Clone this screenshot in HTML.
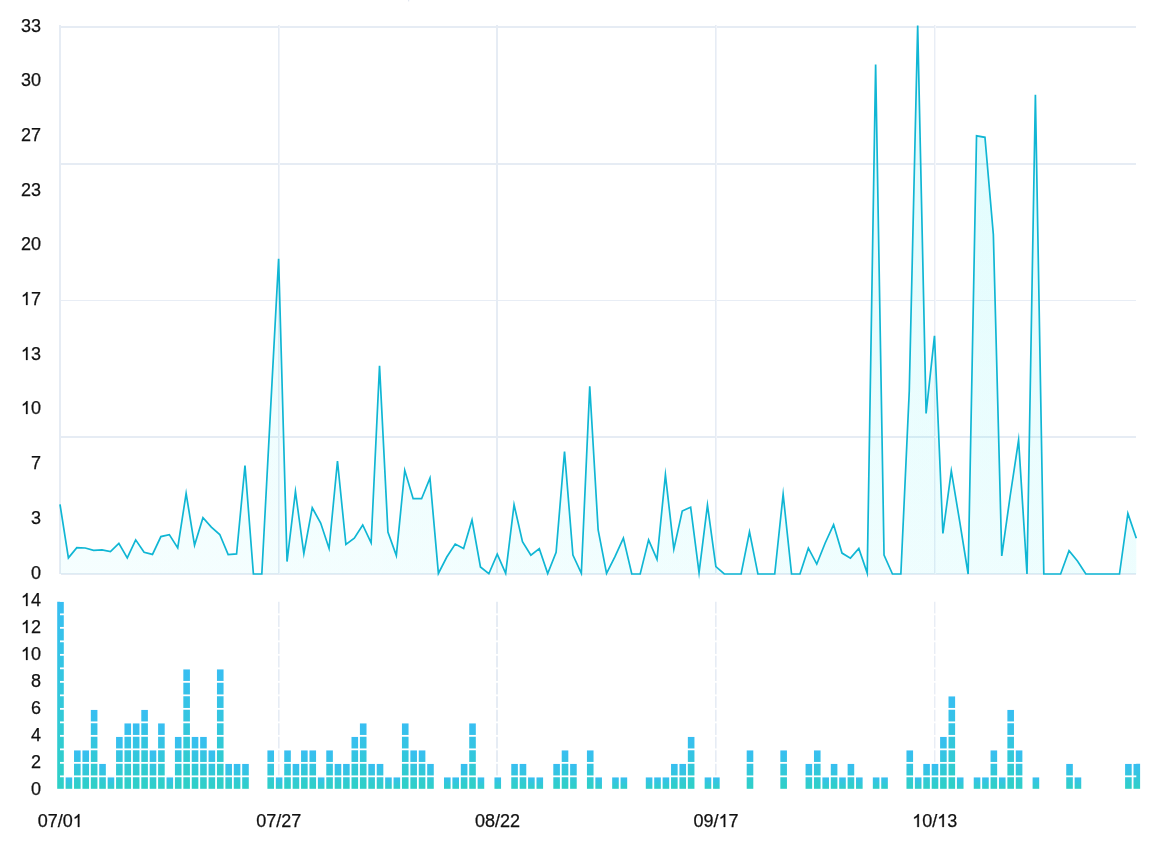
<!DOCTYPE html>
<html><head><meta charset="utf-8"><title>chart</title>
<style>html,body{margin:0;padding:0;background:#fff;}body{position:relative;width:1172px;height:852px;overflow:hidden;font-family:"Liberation Sans",sans-serif;}svg{display:block;position:absolute;left:0;top:0;} .lab{will-change:transform;}</style>
</head><body>
<svg width="1172" height="852" viewBox="0 0 1172 852">
<defs>
<linearGradient id="ag" gradientUnits="userSpaceOnUse" x1="0" y1="26.9" x2="0" y2="574.0">
<stop offset="0" stop-color="rgb(0,232,242)" stop-opacity="0.10"/><stop offset="1" stop-color="rgb(0,232,242)" stop-opacity="0.037"/></linearGradient>
<linearGradient id="ah" gradientUnits="userSpaceOnUse" x1="60" y1="0" x2="1136" y2="0">
<stop offset="0" stop-color="rgb(0,232,242)" stop-opacity="0"/><stop offset="1" stop-color="rgb(0,232,242)" stop-opacity="0.034"/></linearGradient>
<linearGradient id="bg" x1="0" y1="0" x2="0" y2="1">
<stop offset="0" stop-color="#38bef2"/><stop offset="1" stop-color="#2ed0c6"/></linearGradient>
</defs>
<rect width="1172" height="852" fill="#fff"/>
<rect x="61" y="26" width="1075" height="2" fill="#e6ecf4" shape-rendering="crispEdges"/>
<rect x="61" y="163" width="1075" height="2" fill="#e6ecf4" shape-rendering="crispEdges"/>
<rect x="61" y="436" width="1075" height="2" fill="#e6ecf4" shape-rendering="crispEdges"/>
<rect x="61" y="573" width="1075" height="2" fill="#e6ecf4" shape-rendering="crispEdges"/>
<rect x="61" y="300" width="1075" height="1" fill="#e8edf5" shape-rendering="crispEdges"/>
<rect x="59" y="25" width="2" height="549" fill="#e6ecf4" shape-rendering="crispEdges"/>
<rect x="278" y="25" width="1" height="549" fill="#e6ecf4" shape-rendering="crispEdges"/>
<rect x="279" y="25" width="1" height="549" fill="#f0f3f9" shape-rendering="crispEdges"/>
<rect x="496" y="25" width="2" height="549" fill="#e6ecf4" shape-rendering="crispEdges"/>
<rect x="715" y="25" width="1" height="549" fill="#e6ecf4" shape-rendering="crispEdges"/>
<rect x="716" y="25" width="1" height="549" fill="#f0f3f9" shape-rendering="crispEdges"/>
<rect x="934" y="25" width="1" height="549" fill="#e8edf5" shape-rendering="crispEdges"/>
<rect x="935" y="25" width="1" height="549" fill="#f5f7fb" shape-rendering="crispEdges"/>
<polygon points="60.00,574.0 60.00,504.40 68.41,557.91 76.82,547.60 85.23,548.00 93.63,550.40 102.04,549.80 110.45,551.52 118.86,543.32 127.27,557.93 135.68,539.87 144.09,552.20 152.49,554.40 160.90,536.60 169.31,534.63 177.72,547.93 186.13,493.45 194.54,545.25 202.95,517.66 211.35,527.10 219.76,534.50 228.17,554.52 236.58,553.90 244.99,465.50 253.40,574.00 261.81,574.00 270.21,416.40 278.62,258.80 287.03,561.60 295.44,491.52 303.85,553.52 312.26,507.72 320.67,523.00 329.07,548.48 337.48,461.00 345.89,544.38 354.30,538.10 362.71,524.99 371.12,542.91 379.53,365.80 387.94,532.00 396.34,555.53 404.75,470.29 413.16,498.70 421.57,498.70 429.98,478.11 438.39,573.40 446.80,557.00 455.20,544.10 463.61,548.55 472.02,520.06 480.43,567.00 488.84,573.73 497.25,554.07 505.66,573.36 514.06,504.72 522.47,541.60 530.88,555.15 539.29,548.63 547.70,573.51 556.11,552.30 564.52,451.50 572.92,555.00 581.33,573.29 589.74,386.20 598.15,530.00 606.56,573.48 614.97,556.70 623.38,538.18 631.78,574.00 640.19,574.00 648.60,539.80 657.01,559.33 665.42,474.82 673.83,549.07 682.24,511.00 690.64,507.16 699.05,572.64 707.46,505.06 715.87,566.60 724.28,574.00 732.69,574.00 741.10,574.00 749.50,531.95 757.91,574.00 766.32,574.00 774.73,574.00 783.14,494.25 791.55,574.00 799.96,574.00 808.36,548.18 816.77,564.10 825.18,543.00 833.59,524.59 842.00,553.10 850.41,558.18 858.82,548.45 867.22,573.03 875.63,64.40 884.04,555.00 892.45,574.00 900.86,574.00 909.27,391.00 917.68,25.40 926.09,413.40 934.49,335.80 942.90,533.50 951.31,470.88 959.72,521.70 968.13,574.00 976.54,135.85 984.95,137.30 993.35,234.50 1001.76,555.90 1010.17,496.00 1018.58,440.11 1026.99,574.00 1035.40,94.80 1043.81,574.00 1052.21,574.00 1060.62,574.00 1069.03,550.76 1077.44,561.00 1085.85,574.00 1094.26,574.00 1102.67,574.00 1111.07,574.00 1119.48,574.00 1127.89,513.36 1136.30,538.20 1136.30,574.0" fill="url(#ag)"/>
<polygon points="60.00,574.0 60.00,504.40 68.41,557.91 76.82,547.60 85.23,548.00 93.63,550.40 102.04,549.80 110.45,551.52 118.86,543.32 127.27,557.93 135.68,539.87 144.09,552.20 152.49,554.40 160.90,536.60 169.31,534.63 177.72,547.93 186.13,493.45 194.54,545.25 202.95,517.66 211.35,527.10 219.76,534.50 228.17,554.52 236.58,553.90 244.99,465.50 253.40,574.00 261.81,574.00 270.21,416.40 278.62,258.80 287.03,561.60 295.44,491.52 303.85,553.52 312.26,507.72 320.67,523.00 329.07,548.48 337.48,461.00 345.89,544.38 354.30,538.10 362.71,524.99 371.12,542.91 379.53,365.80 387.94,532.00 396.34,555.53 404.75,470.29 413.16,498.70 421.57,498.70 429.98,478.11 438.39,573.40 446.80,557.00 455.20,544.10 463.61,548.55 472.02,520.06 480.43,567.00 488.84,573.73 497.25,554.07 505.66,573.36 514.06,504.72 522.47,541.60 530.88,555.15 539.29,548.63 547.70,573.51 556.11,552.30 564.52,451.50 572.92,555.00 581.33,573.29 589.74,386.20 598.15,530.00 606.56,573.48 614.97,556.70 623.38,538.18 631.78,574.00 640.19,574.00 648.60,539.80 657.01,559.33 665.42,474.82 673.83,549.07 682.24,511.00 690.64,507.16 699.05,572.64 707.46,505.06 715.87,566.60 724.28,574.00 732.69,574.00 741.10,574.00 749.50,531.95 757.91,574.00 766.32,574.00 774.73,574.00 783.14,494.25 791.55,574.00 799.96,574.00 808.36,548.18 816.77,564.10 825.18,543.00 833.59,524.59 842.00,553.10 850.41,558.18 858.82,548.45 867.22,573.03 875.63,64.40 884.04,555.00 892.45,574.00 900.86,574.00 909.27,391.00 917.68,25.40 926.09,413.40 934.49,335.80 942.90,533.50 951.31,470.88 959.72,521.70 968.13,574.00 976.54,135.85 984.95,137.30 993.35,234.50 1001.76,555.90 1010.17,496.00 1018.58,440.11 1026.99,574.00 1035.40,94.80 1043.81,574.00 1052.21,574.00 1060.62,574.00 1069.03,550.76 1077.44,561.00 1085.85,574.00 1094.26,574.00 1102.67,574.00 1111.07,574.00 1119.48,574.00 1127.89,513.36 1136.30,538.20 1136.30,574.0" fill="url(#ah)"/>
<polyline points="60.00,504.40 68.41,557.91 76.82,547.60 85.23,548.00 93.63,550.40 102.04,549.80 110.45,551.52 118.86,543.32 127.27,557.93 135.68,539.87 144.09,552.20 152.49,554.40 160.90,536.60 169.31,534.63 177.72,547.93 186.13,493.45 194.54,545.25 202.95,517.66 211.35,527.10 219.76,534.50 228.17,554.52 236.58,553.90 244.99,465.50 253.40,574.00 261.81,574.00 270.21,416.40 278.62,258.80 287.03,561.60 295.44,491.52 303.85,553.52 312.26,507.72 320.67,523.00 329.07,548.48 337.48,461.00 345.89,544.38 354.30,538.10 362.71,524.99 371.12,542.91 379.53,365.80 387.94,532.00 396.34,555.53 404.75,470.29 413.16,498.70 421.57,498.70 429.98,478.11 438.39,573.40 446.80,557.00 455.20,544.10 463.61,548.55 472.02,520.06 480.43,567.00 488.84,573.73 497.25,554.07 505.66,573.36 514.06,504.72 522.47,541.60 530.88,555.15 539.29,548.63 547.70,573.51 556.11,552.30 564.52,451.50 572.92,555.00 581.33,573.29 589.74,386.20 598.15,530.00 606.56,573.48 614.97,556.70 623.38,538.18 631.78,574.00 640.19,574.00 648.60,539.80 657.01,559.33 665.42,474.82 673.83,549.07 682.24,511.00 690.64,507.16 699.05,572.64 707.46,505.06 715.87,566.60 724.28,574.00 732.69,574.00 741.10,574.00 749.50,531.95 757.91,574.00 766.32,574.00 774.73,574.00 783.14,494.25 791.55,574.00 799.96,574.00 808.36,548.18 816.77,564.10 825.18,543.00 833.59,524.59 842.00,553.10 850.41,558.18 858.82,548.45 867.22,573.03 875.63,64.40 884.04,555.00 892.45,574.00 900.86,574.00 909.27,391.00 917.68,25.40 926.09,413.40 934.49,335.80 942.90,533.50 951.31,470.88 959.72,521.70 968.13,574.00 976.54,135.85 984.95,137.30 993.35,234.50 1001.76,555.90 1010.17,496.00 1018.58,440.11 1026.99,574.00 1035.40,94.80 1043.81,574.00 1052.21,574.00 1060.62,574.00 1069.03,550.76 1077.44,561.00 1085.85,574.00 1094.26,574.00 1102.67,574.00 1111.07,574.00 1119.48,574.00 1127.89,513.36 1136.30,538.20" fill="none" stroke="#10b6d4" stroke-width="1.7" stroke-linejoin="miter" stroke-miterlimit="10"/>
<rect x="278" y="600" width="1" height="189" fill="#e6ecf4" shape-rendering="crispEdges"/>
<rect x="279" y="600" width="1" height="189" fill="#f0f3f9" shape-rendering="crispEdges"/>
<rect x="496" y="600" width="2" height="189" fill="#e6ecf4" shape-rendering="crispEdges"/>
<rect x="715" y="600" width="1" height="189" fill="#e6ecf4" shape-rendering="crispEdges"/>
<rect x="716" y="600" width="1" height="189" fill="#f0f3f9" shape-rendering="crispEdges"/>
<rect x="934" y="600" width="1" height="189" fill="#e8edf5" shape-rendering="crispEdges"/>
<rect x="935" y="600" width="1" height="189" fill="#f5f7fb" shape-rendering="crispEdges"/>
<rect x="57.20" y="601.75" width="6.6" height="187.05" fill="url(#bg)"/>
<rect x="65.61" y="777.25" width="6.6" height="11.55" fill="url(#bg)"/>
<rect x="74.02" y="750.25" width="6.6" height="38.55" fill="url(#bg)"/>
<rect x="82.43" y="750.25" width="6.6" height="38.55" fill="url(#bg)"/>
<rect x="90.83" y="709.75" width="6.6" height="79.05" fill="url(#bg)"/>
<rect x="99.24" y="763.75" width="6.6" height="25.05" fill="url(#bg)"/>
<rect x="107.65" y="777.25" width="6.6" height="11.55" fill="url(#bg)"/>
<rect x="116.06" y="736.75" width="6.6" height="52.05" fill="url(#bg)"/>
<rect x="124.47" y="723.25" width="6.6" height="65.55" fill="url(#bg)"/>
<rect x="132.88" y="723.25" width="6.6" height="65.55" fill="url(#bg)"/>
<rect x="141.29" y="709.75" width="6.6" height="79.05" fill="url(#bg)"/>
<rect x="149.69" y="750.25" width="6.6" height="38.55" fill="url(#bg)"/>
<rect x="158.10" y="723.25" width="6.6" height="65.55" fill="url(#bg)"/>
<rect x="166.51" y="777.25" width="6.6" height="11.55" fill="url(#bg)"/>
<rect x="174.92" y="736.75" width="6.6" height="52.05" fill="url(#bg)"/>
<rect x="183.33" y="669.25" width="6.6" height="119.55" fill="url(#bg)"/>
<rect x="191.74" y="736.75" width="6.6" height="52.05" fill="url(#bg)"/>
<rect x="200.15" y="736.75" width="6.6" height="52.05" fill="url(#bg)"/>
<rect x="208.55" y="750.25" width="6.6" height="38.55" fill="url(#bg)"/>
<rect x="216.96" y="669.25" width="6.6" height="119.55" fill="url(#bg)"/>
<rect x="225.37" y="763.75" width="6.6" height="25.05" fill="url(#bg)"/>
<rect x="233.78" y="763.75" width="6.6" height="25.05" fill="url(#bg)"/>
<rect x="242.19" y="763.75" width="6.6" height="25.05" fill="url(#bg)"/>
<rect x="267.41" y="750.25" width="6.6" height="38.55" fill="url(#bg)"/>
<rect x="275.82" y="777.25" width="6.6" height="11.55" fill="url(#bg)"/>
<rect x="284.23" y="750.25" width="6.6" height="38.55" fill="url(#bg)"/>
<rect x="292.64" y="763.75" width="6.6" height="25.05" fill="url(#bg)"/>
<rect x="301.05" y="750.25" width="6.6" height="38.55" fill="url(#bg)"/>
<rect x="309.46" y="750.25" width="6.6" height="38.55" fill="url(#bg)"/>
<rect x="317.87" y="777.25" width="6.6" height="11.55" fill="url(#bg)"/>
<rect x="326.27" y="750.25" width="6.6" height="38.55" fill="url(#bg)"/>
<rect x="334.68" y="763.75" width="6.6" height="25.05" fill="url(#bg)"/>
<rect x="343.09" y="763.75" width="6.6" height="25.05" fill="url(#bg)"/>
<rect x="351.50" y="736.75" width="6.6" height="52.05" fill="url(#bg)"/>
<rect x="359.91" y="723.25" width="6.6" height="65.55" fill="url(#bg)"/>
<rect x="368.32" y="763.75" width="6.6" height="25.05" fill="url(#bg)"/>
<rect x="376.73" y="763.75" width="6.6" height="25.05" fill="url(#bg)"/>
<rect x="385.14" y="777.25" width="6.6" height="11.55" fill="url(#bg)"/>
<rect x="393.54" y="777.25" width="6.6" height="11.55" fill="url(#bg)"/>
<rect x="401.95" y="723.25" width="6.6" height="65.55" fill="url(#bg)"/>
<rect x="410.36" y="750.25" width="6.6" height="38.55" fill="url(#bg)"/>
<rect x="418.77" y="750.25" width="6.6" height="38.55" fill="url(#bg)"/>
<rect x="427.18" y="763.75" width="6.6" height="25.05" fill="url(#bg)"/>
<rect x="444.00" y="777.25" width="6.6" height="11.55" fill="url(#bg)"/>
<rect x="452.40" y="777.25" width="6.6" height="11.55" fill="url(#bg)"/>
<rect x="460.81" y="763.75" width="6.6" height="25.05" fill="url(#bg)"/>
<rect x="469.22" y="723.25" width="6.6" height="65.55" fill="url(#bg)"/>
<rect x="477.63" y="777.25" width="6.6" height="11.55" fill="url(#bg)"/>
<rect x="494.45" y="777.25" width="6.6" height="11.55" fill="url(#bg)"/>
<rect x="511.26" y="763.75" width="6.6" height="25.05" fill="url(#bg)"/>
<rect x="519.67" y="763.75" width="6.6" height="25.05" fill="url(#bg)"/>
<rect x="528.08" y="777.25" width="6.6" height="11.55" fill="url(#bg)"/>
<rect x="536.49" y="777.25" width="6.6" height="11.55" fill="url(#bg)"/>
<rect x="553.31" y="763.75" width="6.6" height="25.05" fill="url(#bg)"/>
<rect x="561.72" y="750.25" width="6.6" height="38.55" fill="url(#bg)"/>
<rect x="570.12" y="763.75" width="6.6" height="25.05" fill="url(#bg)"/>
<rect x="586.94" y="750.25" width="6.6" height="38.55" fill="url(#bg)"/>
<rect x="595.35" y="777.25" width="6.6" height="11.55" fill="url(#bg)"/>
<rect x="612.17" y="777.25" width="6.6" height="11.55" fill="url(#bg)"/>
<rect x="620.58" y="777.25" width="6.6" height="11.55" fill="url(#bg)"/>
<rect x="645.80" y="777.25" width="6.6" height="11.55" fill="url(#bg)"/>
<rect x="654.21" y="777.25" width="6.6" height="11.55" fill="url(#bg)"/>
<rect x="662.62" y="777.25" width="6.6" height="11.55" fill="url(#bg)"/>
<rect x="671.03" y="763.75" width="6.6" height="25.05" fill="url(#bg)"/>
<rect x="679.44" y="763.75" width="6.6" height="25.05" fill="url(#bg)"/>
<rect x="687.84" y="736.75" width="6.6" height="52.05" fill="url(#bg)"/>
<rect x="704.66" y="777.25" width="6.6" height="11.55" fill="url(#bg)"/>
<rect x="713.07" y="777.25" width="6.6" height="11.55" fill="url(#bg)"/>
<rect x="746.70" y="750.25" width="6.6" height="38.55" fill="url(#bg)"/>
<rect x="780.34" y="750.25" width="6.6" height="38.55" fill="url(#bg)"/>
<rect x="805.56" y="763.75" width="6.6" height="25.05" fill="url(#bg)"/>
<rect x="813.97" y="750.25" width="6.6" height="38.55" fill="url(#bg)"/>
<rect x="822.38" y="777.25" width="6.6" height="11.55" fill="url(#bg)"/>
<rect x="830.79" y="763.75" width="6.6" height="25.05" fill="url(#bg)"/>
<rect x="839.20" y="777.25" width="6.6" height="11.55" fill="url(#bg)"/>
<rect x="847.61" y="763.75" width="6.6" height="25.05" fill="url(#bg)"/>
<rect x="856.02" y="777.25" width="6.6" height="11.55" fill="url(#bg)"/>
<rect x="872.83" y="777.25" width="6.6" height="11.55" fill="url(#bg)"/>
<rect x="881.24" y="777.25" width="6.6" height="11.55" fill="url(#bg)"/>
<rect x="906.47" y="750.25" width="6.6" height="38.55" fill="url(#bg)"/>
<rect x="914.88" y="777.25" width="6.6" height="11.55" fill="url(#bg)"/>
<rect x="923.29" y="763.75" width="6.6" height="25.05" fill="url(#bg)"/>
<rect x="931.69" y="763.75" width="6.6" height="25.05" fill="url(#bg)"/>
<rect x="940.10" y="736.75" width="6.6" height="52.05" fill="url(#bg)"/>
<rect x="948.51" y="696.25" width="6.6" height="92.55" fill="url(#bg)"/>
<rect x="956.92" y="777.25" width="6.6" height="11.55" fill="url(#bg)"/>
<rect x="973.74" y="777.25" width="6.6" height="11.55" fill="url(#bg)"/>
<rect x="982.15" y="777.25" width="6.6" height="11.55" fill="url(#bg)"/>
<rect x="990.55" y="750.25" width="6.6" height="38.55" fill="url(#bg)"/>
<rect x="998.96" y="777.25" width="6.6" height="11.55" fill="url(#bg)"/>
<rect x="1007.37" y="709.75" width="6.6" height="79.05" fill="url(#bg)"/>
<rect x="1015.78" y="750.25" width="6.6" height="38.55" fill="url(#bg)"/>
<rect x="1032.60" y="777.25" width="6.6" height="11.55" fill="url(#bg)"/>
<rect x="1066.23" y="763.75" width="6.6" height="25.05" fill="url(#bg)"/>
<rect x="1074.64" y="777.25" width="6.6" height="11.55" fill="url(#bg)"/>
<rect x="1125.09" y="763.75" width="6.6" height="25.05" fill="url(#bg)"/>
<rect x="1133.50" y="763.75" width="6.6" height="25.05" fill="url(#bg)"/>
<rect x="60.0" y="775.45" width="1076.3" height="1.8" fill="#fff"/>
<rect x="60.0" y="761.95" width="1076.3" height="1.8" fill="#fff"/>
<rect x="60.0" y="748.45" width="1076.3" height="1.8" fill="#fff"/>
<rect x="60.0" y="734.95" width="1076.3" height="1.8" fill="#fff"/>
<rect x="60.0" y="721.45" width="1076.3" height="1.8" fill="#fff"/>
<rect x="60.0" y="707.95" width="1076.3" height="1.8" fill="#fff"/>
<rect x="60.0" y="694.45" width="1076.3" height="1.8" fill="#fff"/>
<rect x="60.0" y="680.95" width="1076.3" height="1.8" fill="#fff"/>
<rect x="60.0" y="667.45" width="1076.3" height="1.8" fill="#fff"/>
<rect x="60.0" y="653.95" width="1076.3" height="1.8" fill="#fff"/>
<rect x="60.0" y="640.45" width="1076.3" height="1.8" fill="#fff"/>
<rect x="60.0" y="626.95" width="1076.3" height="1.8" fill="#fff"/>
<rect x="60.0" y="613.45" width="1076.3" height="1.8" fill="#fff"/>
<rect x="60.0" y="599.95" width="1076.3" height="1.8" fill="#fff"/>
<rect x="408" y="0" width="1.2" height="1.4" fill="#e2e7f0"/>
</svg>
<svg class="lab" width="1172" height="852" viewBox="0 0 1172 852">
<g font-family="Liberation Sans, sans-serif" font-size="18" fill="#111" stroke="#111" stroke-width="0.25">
<text x="30.89" y="579">0</text>
<text x="30.89" y="524">3</text>
<text x="30.89" y="469">7</text>
<path transform="translate(20.88,414) scale(0.008789,-0.008789)" stroke-width="28" d="M763 0L583 0L583 1147Q518 1085 412 1023Q306 961 223 930L223 1104Q372 1174 484 1274Q596 1374 643 1466L763 1466Z"/>
<text x="30.89" y="414">0</text>
<path transform="translate(20.88,360) scale(0.008789,-0.008789)" stroke-width="28" d="M763 0L583 0L583 1147Q518 1085 412 1023Q306 961 223 930L223 1104Q372 1174 484 1274Q596 1374 643 1466L763 1466Z"/>
<text x="30.89" y="360">3</text>
<path transform="translate(20.88,305) scale(0.008789,-0.008789)" stroke-width="28" d="M763 0L583 0L583 1147Q518 1085 412 1023Q306 961 223 930L223 1104Q372 1174 484 1274Q596 1374 643 1466L763 1466Z"/>
<text x="30.89" y="305">7</text>
<text x="20.88" y="250">2</text>
<text x="30.89" y="250">0</text>
<text x="20.88" y="196">2</text>
<text x="30.89" y="196">3</text>
<text x="20.88" y="141">2</text>
<text x="30.89" y="141">7</text>
<text x="20.88" y="86">3</text>
<text x="30.89" y="86">0</text>
<text x="20.88" y="32">3</text>
<text x="30.89" y="32">3</text>
<text x="30.89" y="795">0</text>
<text x="30.89" y="768">2</text>
<text x="30.89" y="741">4</text>
<text x="30.89" y="714">6</text>
<text x="30.89" y="687">8</text>
<path transform="translate(20.88,660) scale(0.008789,-0.008789)" stroke-width="28" d="M763 0L583 0L583 1147Q518 1085 412 1023Q306 961 223 930L223 1104Q372 1174 484 1274Q596 1374 643 1466L763 1466Z"/>
<text x="30.89" y="660">0</text>
<path transform="translate(20.88,633) scale(0.008789,-0.008789)" stroke-width="28" d="M763 0L583 0L583 1147Q518 1085 412 1023Q306 961 223 930L223 1104Q372 1174 484 1274Q596 1374 643 1466L763 1466Z"/>
<text x="30.89" y="633">2</text>
<path transform="translate(20.88,606) scale(0.008789,-0.008789)" stroke-width="28" d="M763 0L583 0L583 1147Q518 1085 412 1023Q306 961 223 930L223 1104Q372 1174 484 1274Q596 1374 643 1466L763 1466Z"/>
<text x="30.89" y="606">4</text>
<text x="37.68" y="827">0</text>
<text x="47.69" y="827">7</text>
<text x="57.70" y="827">/</text>
<text x="62.70" y="827">0</text>
<path transform="translate(72.71,827) scale(0.008789,-0.008789)" stroke-width="28" d="M763 0L583 0L583 1147Q518 1085 412 1023Q306 961 223 930L223 1104Q372 1174 484 1274Q596 1374 643 1466L763 1466Z"/>
<text x="256.30" y="827">0</text>
<text x="266.31" y="827">7</text>
<text x="276.32" y="827">/</text>
<text x="281.32" y="827">2</text>
<text x="291.33" y="827">7</text>
<text x="474.92" y="827">0</text>
<text x="484.94" y="827">8</text>
<text x="494.95" y="827">/</text>
<text x="499.95" y="827">2</text>
<text x="509.96" y="827">2</text>
<text x="693.55" y="827">0</text>
<text x="703.56" y="827">9</text>
<text x="713.57" y="827">/</text>
<path transform="translate(718.57,827) scale(0.008789,-0.008789)" stroke-width="28" d="M763 0L583 0L583 1147Q518 1085 412 1023Q306 961 223 930L223 1104Q372 1174 484 1274Q596 1374 643 1466L763 1466Z"/>
<text x="728.58" y="827">7</text>
<path transform="translate(912.17,827) scale(0.008789,-0.008789)" stroke-width="28" d="M763 0L583 0L583 1147Q518 1085 412 1023Q306 961 223 930L223 1104Q372 1174 484 1274Q596 1374 643 1466L763 1466Z"/>
<text x="922.18" y="827">0</text>
<text x="932.19" y="827">/</text>
<path transform="translate(937.19,827) scale(0.008789,-0.008789)" stroke-width="28" d="M763 0L583 0L583 1147Q518 1085 412 1023Q306 961 223 930L223 1104Q372 1174 484 1274Q596 1374 643 1466L763 1466Z"/>
<text x="947.20" y="827">3</text>
</g>
</svg>
</body></html>
